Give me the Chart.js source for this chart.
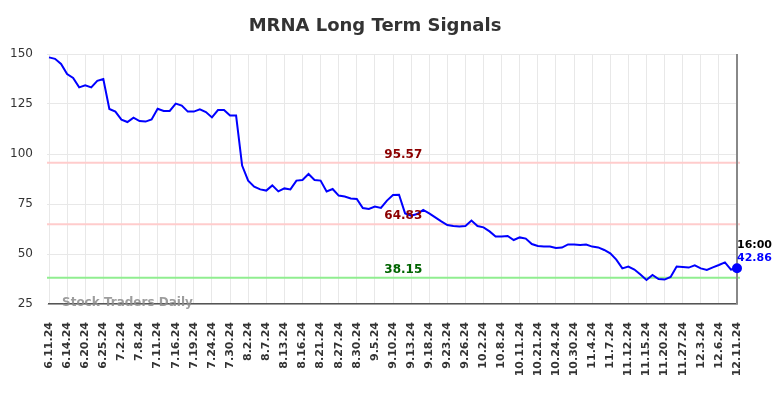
<!DOCTYPE html>
<html>
<head>
<meta charset="utf-8">
<script src="https://cdn.jsdelivr.net/npm/chart.js@4"></script>
<style>
  html, body { margin: 0; padding: 0; background: #fff; }
  #wrap { width: 784px; height: 398px; }
</style>
</head>
<body>
<div id="wrap"><canvas id="signalChart" width="784" height="398"></canvas></div>
<script>
const TITLE = 'MRNA Long Term Signals';
const WATERMARK = 'Stock Traders Daily';

const dates = [
  '6.11.24', '6.12.24', '6.13.24', '6.14.24', '6.17.24', '6.18.24', '6.20.24', '6.21.24', '6.24.24', '6.25.24',
  '6.26.24', '6.28.24', '7.2.24', '7.3.24', '7.5.24', '7.8.24', '7.9.24', '7.10.24', '7.11.24', '7.12.24',
  '7.15.24', '7.16.24', '7.17.24', '7.18.24', '7.19.24', '7.22.24', '7.23.24', '7.24.24', '7.25.24', '7.26.24',
  '7.30.24', '7.31.24', '8.1.24', '8.2.24', '8.5.24', '8.6.24', '8.7.24', '8.8.24', '8.12.24', '8.13.24',
  '8.14.24', '8.15.24', '8.16.24', '8.19.24', '8.20.24', '8.21.24', '8.22.24', '8.26.24', '8.27.24', '8.28.24',
  '8.29.24', '8.30.24', '9.3.24', '9.4.24', '9.5.24', '9.6.24', '9.9.24', '9.10.24', '9.11.24', '9.12.24',
  '9.13.24', '9.16.24', '9.17.24', '9.18.24', '9.19.24', '9.20.24', '9.23.24', '9.24.24', '9.25.24', '9.26.24',
  '9.27.24', '10.1.24', '10.2.24', '10.3.24', '10.7.24', '10.8.24', '10.9.24', '10.10.24', '10.11.24', '10.15.24',
  '10.18.24', '10.21.24', '10.22.24', '10.23.24', '10.24.24', '10.25.24', '10.29.24', '10.30.24', '10.31.24', '11.1.24',
  '11.4.24', '11.5.24', '11.6.24', '11.7.24', '11.8.24', '11.11.24', '11.12.24', '11.13.24', '11.14.24', '11.15.24',
  '11.18.24', '11.19.24', '11.20.24', '11.22.24', '11.25.24', '11.27.24', '11.29.24', '12.2.24', '12.3.24', '12.4.24',
  '12.5.24', '12.6.24', '12.9.24', '12.10.24', '12.11.24'
];

// labels printed on the x axis
const tickDates = [
  '6.11.24', '6.14.24', '6.20.24', '6.25.24', '7.2.24', '7.8.24', '7.11.24', '7.16.24', '7.19.24', '7.24.24',
  '7.30.24', '8.2.24', '8.7.24', '8.13.24', '8.16.24', '8.21.24', '8.27.24', '8.30.24', '9.5.24', '9.10.24',
  '9.13.24', '9.18.24', '9.23.24', '9.26.24', '10.2.24', '10.8.24', '10.11.24', '10.21.24', '10.24.24', '10.30.24',
  '11.4.24', '11.7.24', '11.12.24', '11.15.24', '11.20.24', '11.27.24', '12.3.24', '12.6.24', '12.11.24'
];

const prices = [
  148.3, 147.6, 145.0, 140.0, 138.0, 133.3, 134.3, 133.3, 136.6, 137.5,
  122.5, 121.2, 117.2, 116.0, 118.2, 116.5, 116.2, 117.3, 122.6, 121.5,
  121.5, 125.2, 124.2, 121.2, 121.2, 122.3, 121.0, 118.3, 122.0, 122.0,
  119.2, 119.2, 94.2, 86.7, 83.7, 82.3, 81.7, 84.3, 81.3, 82.8,
  82.3, 86.7, 87.0, 90.0, 87.0, 86.7, 81.3, 82.5, 79.2, 78.7,
  77.8, 77.5, 73.0, 72.5, 73.7, 73.0, 76.7, 79.5, 79.6, 70.3,
  69.2, 70.0, 72.0, 70.3, 68.3, 66.3, 64.5, 64.0, 63.8, 64.0,
  66.7, 64.0, 63.3, 61.3, 58.8, 58.7, 59.0, 57.0, 58.3, 57.7,
  55.0, 54.0, 53.7, 53.7, 53.0, 53.2, 54.8, 54.7, 54.5, 54.7,
  53.7, 53.3, 52.0, 50.3, 47.2, 42.8, 43.7, 42.2, 39.7, 37.0,
  39.5, 37.5, 37.2, 38.5, 43.7, 43.5, 43.2, 44.3, 42.8, 42.0,
  43.3, 44.5, 45.8, 42.2, 42.86
];

const yTicks = [25, 50, 75, 100, 125, 150];

const signalLevels = [95.57, 64.83, 38.15];
const signalColors = ['#ffcccc', '#ffcccc', '#90ee90'];
const signalTextColors = ['#8b0000', '#8b0000', '#006400'];

const lastTime = '16:00';

const FONT = '"DejaVu Sans", sans-serif';

const overlay = {
  id: 'overlay',
  beforeDatasetsDraw(chart) {
    const { ctx, chartArea: a, scales: { y } } = chart;
    ctx.save();
    signalLevels.forEach((lvl, i) => {
      const py = y.getPixelForValue(lvl);
      ctx.strokeStyle = signalColors[i];
      ctx.lineWidth = 2;
      ctx.beginPath();
      ctx.moveTo(a.left - 2, py);
      ctx.lineTo(a.right + 3, py);
      ctx.stroke();
    });
    // right frame line
    ctx.strokeStyle = '#888';
    ctx.lineWidth = 2;
    ctx.beginPath();
    ctx.moveTo(a.right, a.top);
    ctx.lineTo(a.right, a.bottom);
    ctx.stroke();
    ctx.restore();
  },
  afterDatasetsDraw(chart) {
    const { ctx, chartArea: a, scales: { x, y } } = chart;
    ctx.save();
    // title
    ctx.fillStyle = '#333';
    ctx.font = 'bold 18px ' + FONT;
    ctx.textAlign = 'center';
    ctx.textBaseline = 'middle';
    ctx.fillText(TITLE, 375, 26);

    // level labels
    const midX = a.left + (a.right - a.left) * 0.515;
    ctx.font = 'bold 12px ' + FONT;
    ctx.textBaseline = 'bottom';
    signalLevels.forEach((lvl, i) => {
      ctx.fillStyle = signalTextColors[i];
      ctx.fillText(lvl.toFixed(2), midX, y.getPixelForValue(lvl) - 2);
    });

    // watermark
    ctx.fillStyle = 'rgba(140,140,140,0.85)';
    ctx.font = 'bold 12px ' + FONT;
    ctx.textAlign = 'left';
    ctx.textBaseline = 'middle';
    ctx.fillText(WATERMARK, 62, a.bottom - 1);

    // last value labels
    const last = prices.length - 1;
    const lx = x.getPixelForValue(last);
    const ly = y.getPixelForValue(prices[last]);
    ctx.font = 'bold 11px ' + FONT;
    ctx.textAlign = 'left';
    ctx.textBaseline = 'middle';
    ctx.fillStyle = '#000';
    ctx.fillText(lastTime, lx, ly - 23);
    ctx.fillStyle = '#0000ff';
    ctx.fillText(prices[last].toFixed(2), lx, ly - 10);
    ctx.restore();
  }
};

new Chart(document.getElementById('signalChart'), {
  type: 'line',
  data: {
    labels: dates,
    datasets: [{
      data: prices,
      borderColor: '#0000ff',
      backgroundColor: '#0000ff',
      borderWidth: 2,
      tension: 0,
      pointRadius: ctx => ctx.dataIndex === prices.length - 1 ? 4 : 0,
      pointHoverRadius: 0,
    }],
  },
  options: {
    responsive: false,
    animation: false,
    layout: { padding: { top: 54, right: 47, left: 0, bottom: 0 } },
    plugins: { legend: { display: false }, tooltip: { enabled: false }, title: { display: false } },
    scales: {
      x: {
        offset: false,
        grid: {
          color: '#e8e8e8',
          lineWidth: 1,
          drawTicks: false,
        },
        border: { color: '#555', width: 1.5 },
        ticks: {
          autoSkip: false,
          maxRotation: 90,
          minRotation: 90,
          padding: 18,
          color: '#333',
          font: { family: FONT, size: 11, weight: 'bold' },
          callback: function (v, i) {
            const lbl = dates[i];
            return tickDates.includes(lbl) ? lbl : null;
          },
        },
        afterFit: s => { s.height = 94; },
      },
      y: {
        min: 25,
        max: 150,
        grid: { color: '#e8e8e8', lineWidth: 1, drawTicks: true, tickLength: 2 },
        border: { display: false },
        afterBuildTicks: s => { s.ticks = yTicks.map(v => ({ value: v })); },
        ticks: {
          padding: 14,
          color: '#333',
          font: { family: FONT, size: 12 },
        },
        afterFit: s => { s.width = 49; },
      },
    },
  },
  plugins: [overlay],
});
</script>
</body>
</html>
